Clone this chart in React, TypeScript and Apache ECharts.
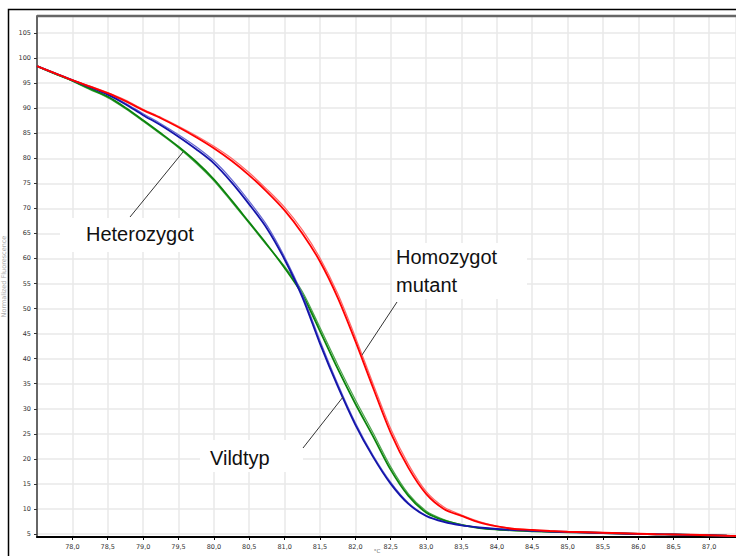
import React, { useEffect, useRef } from 'react';
import * as echarts from 'echarts';

// Temperature grid (°C)
const temps = [
  77.5, 77.75, 78.0, 78.25, 78.5, 78.75, 79.0, 79.25, 79.5, 79.75,
  80.0, 80.25, 80.5, 80.75, 81.0, 81.25, 81.5, 81.75, 82.0, 82.25,
  82.5, 82.75, 83.0, 83.25, 83.5, 83.75, 84.0, 84.25, 84.5, 84.75,
  85.0, 85.25, 85.5, 85.75, 86.0, 86.25, 86.5, 86.75, 87.0, 87.25, 87.38,
];

// Homozygot mutant (red), two replicates
const mutantA = [
  98.4, 97.0, 95.6, 94.3, 93.0, 91.4, 89.6, 88.0, 86.2, 84.2,
  82.0, 79.5, 76.6, 73.3, 69.6, 65.0, 59.4, 52.2, 43.5, 34.2,
  25.2, 18.2, 13.0, 10.0, 8.6, 7.3, 6.5, 6.0, 5.8, 5.6,
  5.45, 5.35, 5.25, 5.15, 5.05, 4.95, 4.9, 4.85, 4.75, 4.65, 4.6,
];
const mutantB = [
  98.4, 97.0, 95.6, 94.4, 93.1, 91.6, 89.8, 88.2, 86.4, 84.5,
  82.4, 80.0, 77.1, 73.8, 70.2, 65.7, 60.1, 53.0, 44.3, 35.0,
  26.0, 18.9, 13.5, 10.4, 8.8, 7.5, 6.6, 6.1, 5.8, 5.6,
  5.45, 5.35, 5.25, 5.15, 5.05, 4.95, 4.9, 4.85, 4.75, 4.65, 4.6,
];

// Vildtyp (blue), two replicates
const wildA = [
  98.4, 97.0, 95.6, 94.2, 92.7, 90.8, 88.6, 86.6, 84.3, 81.8,
  79.0, 75.2, 70.8, 66.0, 59.8, 52.3, 43.0, 34.5, 26.8, 20.4,
  15.0, 11.0, 8.6, 7.4, 6.7, 6.3, 6.0, 5.8, 5.65, 5.5,
  5.4, 5.3, 5.2, 5.1, 5.0, 4.95, 4.9, 4.8, 4.75, 4.65, 4.6,
];
const wildB = [
  98.4, 97.0, 95.6, 94.3, 92.8, 91.0, 88.9, 86.9, 84.7, 82.3,
  79.5, 75.8, 71.4, 66.6, 60.3, 52.8, 43.6, 35.0, 27.2, 20.7,
  15.3, 11.2, 8.7, 7.5, 6.8, 6.3, 6.0, 5.8, 5.65, 5.5,
  5.4, 5.3, 5.2, 5.1, 5.0, 4.95, 4.9, 4.8, 4.75, 4.65, 4.6,
];

// Heterozygot (green), two replicates
const hetA = [
  98.4, 96.9, 95.5, 93.9, 92.3, 90.1, 87.6, 85.0, 82.3, 79.3,
  75.8, 71.6, 67.2, 62.8, 58.1, 52.8, 45.5, 38.0, 31.0, 24.5,
  17.8, 12.6, 9.3, 7.7, 6.8, 6.2, 5.9, 5.7, 5.55, 5.45,
  5.35, 5.3, 5.2, 5.1, 5.0, 4.95, 4.9, 4.8, 4.75, 4.65, 4.6,
];
const hetB = [
  98.4, 96.9, 95.4, 93.7, 92.1, 89.9, 87.4, 84.8, 82.1, 79.0,
  75.5, 71.3, 67.0, 62.6, 58.4, 53.4, 46.2, 38.8, 31.8, 25.2,
  18.4, 13.0, 9.6, 7.9, 6.9, 6.3, 5.9, 5.7, 5.55, 5.45,
  5.35, 5.3, 5.2, 5.1, 5.0, 4.95, 4.9, 4.8, 4.75, 4.65, 4.6,
];

const yAxisTitle = 'Normalized Fluorescence';
const xAxisTitle = '°C';

const labelHet = 'Heterozygot';
const labelMut = 'Homozygot\nmutant';
const labelWild = 'Vildtyp';

export default function App() {
  const ref = useRef<HTMLDivElement>(null);

  useEffect(() => {
    const chart = echarts.init(ref.current!, null, { renderer: 'svg' });
    const toData = (vals: number[]) => temps.map((t, i) => [t, vals[i]]);
    const mk = (name: string, vals: number[], color: string, width: number, opacity: number, z: number) => ({
      type: 'line',
      name,
      data: toData(vals),
      symbol: 'none',
      smooth: 0.3,
      silent: true,
      z,
      lineStyle: { color, width, opacity },
    });

    const annFont = '"Liberation Sans", Arial, sans-serif';

    chart.setOption({
      animation: false,
      backgroundColor: '#ffffff',
      grid: { left: 37, top: 16, right: 0, bottom: 19, containLabel: false, outerBoundsMode: 'none' },
      xAxis: {
        type: 'value',
        min: 77.5,
        max: 87.38,
        interval: 0.5,
        axisLine: { show: true, onZero: false, lineStyle: { color: '#000', width: 2 } },
        axisTick: { show: true, length: 3, lineStyle: { color: '#000', width: 1 } },
        axisLabel: {
          fontSize: 6.5,
          color: '#333',
          fontFamily: 'DejaVu Sans',
          margin: 6,
          showMinLabel: false,
          showMaxLabel: false,
          formatter: (v: number) => (Math.abs(v * 2 - Math.round(v * 2)) < 1e-6 && v > 77.6 ? v.toFixed(1).replace('.', ',') : ''),
        },
        splitLine: { show: true, lineStyle: { color: '#e8e8e8', width: 1.5 } },
      },
      yAxis: {
        type: 'value',
        min: 4.4,
        max: 108.4,
        splitNumber: 20,
        name: yAxisTitle,
        nameLocation: 'middle',
        nameGap: 21,
        nameTextStyle: { fontSize: 6.5, color: '#aaa', fontFamily: 'DejaVu Sans' },
        axisLine: { show: true, onZero: false, lineStyle: { color: '#666', width: 2 } },
        axisTick: { show: true, length: 3, lineStyle: { color: '#333', width: 1 } },
        axisLabel: {
          fontSize: 6.5,
          color: '#333',
          fontFamily: 'DejaVu Sans',
          margin: 6,
          showMinLabel: false,
          showMaxLabel: false,
          formatter: (v: number) => (Math.abs(v / 5 - Math.round(v / 5)) < 1e-6 ? String(Math.round(v)) : ''),
        },
        splitLine: { show: true, lineStyle: { color: '#e8e8e8', width: 1.5 } },
      },
      series: [
        mk('Heterozygot B', hetB, '#3a9a3a', 1.2, 0.9, 2),
        mk('Heterozygot A', hetA, '#0b840b', 1.8, 1, 3),
        mk('Vildtyp B', wildB, '#5555cc', 1.2, 0.9, 4),
        mk('Vildtyp A', wildA, '#1414aa', 1.8, 1, 5),
        mk('Homozygot mutant B', mutantB, '#ff5555', 1.2, 0.9, 6),
        mk('Homozygot mutant A', mutantA, '#ff0000', 1.8, 1, 7),
      ],
      graphic: [
        { type: 'rect', silent: true, z: 100, shape: { x: 8.5, y: 9.5, width: 800, height: 600 }, style: { fill: 'none', stroke: '#000', lineWidth: 1.5 } },
        { type: 'line', silent: true, z: 100, shape: { x1: 37, y1: 16, x2: 736, y2: 16 }, style: { stroke: '#666', lineWidth: 2.5 } },
        // x-axis unit label
        { type: 'text', silent: true, z: 60, x: 377, y: 548, style: { text: xAxisTitle, font: '5.5px "DejaVu Sans"', lineHeight: 6, fill: '#666', align: 'center', verticalAlign: 'top' } },
        // annotation boxes
        { type: 'rect', silent: true, z: 50, shape: { x: 60, y: 218, width: 153, height: 34 }, style: { fill: '#fff' } },
        { type: 'rect', silent: true, z: 50, shape: { x: 392, y: 243, width: 135, height: 56 }, style: { fill: '#fff' } },
        { type: 'rect', silent: true, z: 50, shape: { x: 200, y: 440, width: 103, height: 32 }, style: { fill: '#fff' } },
        // pointer lines
        { type: 'line', silent: true, z: 60, shape: { x1: 130, y1: 217, x2: 183, y2: 152 }, style: { stroke: '#333', lineWidth: 1 } },
        { type: 'line', silent: true, z: 60, shape: { x1: 362, y1: 355, x2: 397, y2: 302 }, style: { stroke: '#333', lineWidth: 1 } },
        { type: 'line', silent: true, z: 60, shape: { x1: 303, y1: 448, x2: 343, y2: 397 }, style: { stroke: '#333', lineWidth: 1 } },
        // labels
        { type: 'text', silent: true, z: 60, x: 86, y: 234, style: { text: labelHet, font: `20px ${annFont}`, fill: '#111', verticalAlign: 'middle' } },
        { type: 'text', silent: true, z: 60, x: 396, y: 243, style: { text: labelMut, font: `20px ${annFont}`, lineHeight: 28, fill: '#111' } },
        { type: 'text', silent: true, z: 60, x: 210, y: 458, style: { text: labelWild, font: `20px ${annFont}`, fill: '#111', verticalAlign: 'middle' } },
      ],
    });

    return () => chart.dispose();
  }, []);

  return <div ref={ref} style={{ position: 'fixed', left: 0, top: 0, width: 736, height: 556 }} />;
}
